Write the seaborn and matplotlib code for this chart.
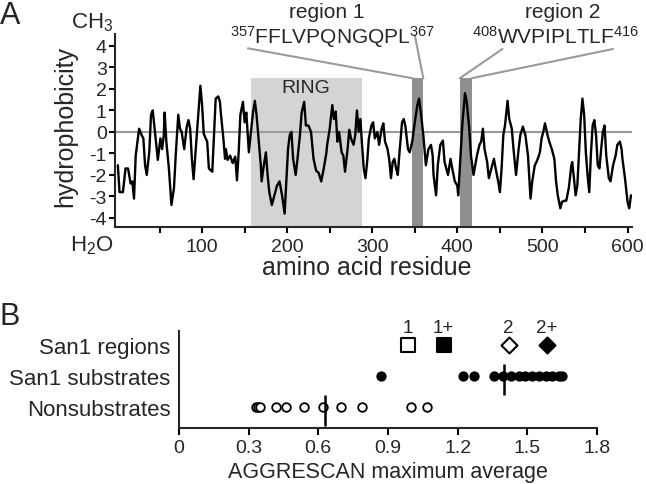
import numpy as np
import pandas as pd
import matplotlib
matplotlib.use("Agg")
import matplotlib.pyplot as plt
import seaborn as sns

# ---------------- Data ----------------
# Panel A: hydrophobicity profile
residue = [1, 3, 7, 10, 13, 16, 18, 20, 22, 26, 29, 31, 33, 35, 38, 40, 42, 45, 48, 51,
           53, 55, 56, 58, 61, 64, 67, 69, 72, 74, 76, 79, 82, 84, 86, 88, 90, 92, 95, 98,
           100, 102, 106, 108, 112, 114, 116, 119, 121, 122, 125, 127, 128, 130, 133, 136, 139, 141, 143, 145,
           148, 150, 152, 155, 157, 160, 162, 164, 166, 169, 170, 172, 175, 177, 179, 182, 185, 188, 191, 194,
           197, 199, 201, 203, 205, 207, 210, 212, 215, 217, 220, 222, 225, 228, 231, 234, 237, 240, 243, 246,
           247, 250, 253, 255, 257, 259, 261, 264, 266, 268, 271, 273, 275, 278, 280, 282, 284, 286, 288, 290,
           292, 294, 296, 299, 301, 303, 306, 308, 311, 313, 315, 318, 320, 322, 324, 326, 328, 330, 332, 335,
           337, 339, 342, 344, 347, 350, 353, 355, 357, 360, 363, 366, 369, 371, 372, 375, 377, 380, 383, 385,
           387, 389, 392, 394, 397, 400, 401, 404, 406, 409, 411, 414, 416, 419, 421, 423, 426, 428, 430, 432,
           435, 437, 440, 443, 445, 448, 450, 452, 454, 456, 459, 461, 464, 466, 469, 472, 474, 477, 480, 483,
           486, 488, 491, 493, 495, 497, 499, 501, 503, 506, 508, 511, 514, 516, 518, 521, 523, 526, 528, 531,
           534, 535, 537, 539, 541, 543, 545, 547, 549, 551, 553, 555, 557, 559, 561, 563, 565, 567, 569, 571,
           573, 575, 578, 580, 583, 586, 588, 591, 593, 594, 597, 600, 602, 604]
hydro = [-1.55, -2.8, -2.8, -1.7, -1.7, -2.4, -2.3, -3.1, -1.1, 0.15, -0.15, -0.3, -1.55, -2.0, -0.9, 0.8, 1.0, -0.15, -1.3, -0.3,
         -0.8, -0.15, 0.9, -0.45, -1.7, -3.4, -2.6, -1.1, 0.8, 0.15, 0.0, -0.8, 0.25, 0.55, 0.15, -1.25, -2.2, -1.1, 0.6, 2.15,
         1.25, -0.1, -0.45, -1.7, -1.85, -0.15, 1.55, 1.65, 1.4, 0.9, -0.3, -1.25, -0.8, -1.3, -1.1, -1.45, -1.15, -2.25, -0.95, 0.8,
         1.4, 0.45, 0.9, -0.95, -0.15, 0.95, 1.45, 0.8, -0.15, -1.55, -2.3, -1.7, -0.95, -2.0, -2.8, -3.4, -2.95, -2.5, -2.3, -2.95,
         -3.8, -2.3, -0.8, -0.15, 0.0, -1.25, -2.0, -1.3, -0.15, 0.9, 1.4, 0.3, 0.3, 0.0, -1.25, -1.8, -1.9, -2.3, -1.7, -1.0,
         -0.6, 0.15, 1.25, 0.6, 0.95, -0.45, 0.0, -0.95, -1.1, -1.85, -0.8, 0.1, -0.3, -0.6, -0.15, 1.0, 0.0, 0.6, -0.6, -1.7,
         -2.15, -1.4, -0.3, 0.3, 0.45, -0.3, 0.0, -0.6, 0.15, 0.4, -0.45, -0.8, -1.3, -2.15, -1.4, -1.25, -1.7, -2.0, -0.95, 0.45,
         0.6, 0.25, -0.8, -0.95, -0.45, 0.45, 1.25, 1.55, 0.95, -0.15, -1.55, -0.8, -0.6, -1.1, -2.0, -2.95, -1.55, -0.6, -0.4, -1.4,
         -1.7, -2.0, -1.25, -1.7, -2.3, -2.5, -2.95, -0.95, 0.45, 1.8, 1.4, 0.15, -1.1, -2.0, -1.55, -1.1, -0.6, -0.45, 0.15, -0.8,
         -1.4, -2.15, -1.7, -1.25, -1.7, -2.3, -2.8, -1.7, -0.15, 0.3, 1.45, 0.6, 0.15, -0.8, -2.0, -0.8, -0.15, 0.25, -0.15, -1.1,
         -3.1, -2.3, -1.55, -1.4, -1.2, -0.95, -0.3, 0.0, 0.4, -0.15, -0.45, -0.8, -1.25, -2.3, -2.95, -3.55, -3.25, -3.2, -3.2, -2.6,
         -1.55, -1.4, -2.15, -2.95, -2.5, -0.95, 0.6, 1.55, 0.8, -0.95, -2.0, -2.8, -1.0, 0.3, 0.55, -0.15, -1.55, -1.7, -0.8, 0.0,
         0.3, -1.1, -2.15, -2.3, -1.55, -1.1, -0.6, -0.45, -0.8, -1.25, -2.15, -3.25, -3.55, -2.95]

ring_span = [158, 287.5]
region1_span = [347, 360]
region2_span = [403, 417]
band_top = 2.5

# Panel B: AGGRESCAN maximum average
groups = ["San1 regions", "San1 substrates", "Nonsubstrates"]
region_labels = ["1", "1+", "2", "2+"]
region_scores = [0.985, 1.14, 1.42, 1.585]
region_markers = ["s", "s", "D", "D"]
region_filled = [False, True, False, True]
substrates = [0.87, 1.225, 1.27, 1.355, 1.395, 1.43, 1.465, 1.49, 1.52, 1.55, 1.58, 1.605, 1.635, 1.65]
nonsubstrates = [0.33, 0.34, 0.35, 0.42, 0.46, 0.54, 0.62, 0.70, 0.79, 1.00, 1.07]
substrates_mid = 1.40
nonsubstrates_mid = 0.63

# ---------------- Style ----------------
sns.set_theme(style="ticks")
plt.rcParams['font.family'] = ['Liberation Sans', 'DejaVu Sans']
plt.rcParams['mathtext.default'] = 'regular'
plt.rcParams['axes.unicode_minus'] = False
plt.rcParams['axes.linewidth'] = 1.5
plt.rcParams['xtick.major.width'] = 1.5
plt.rcParams['ytick.major.width'] = 1.5
plt.rcParams['xtick.minor.width'] = 1.5

fig = plt.figure(figsize=(6.46, 4.85), dpi=100)
axA = fig.add_axes([0.178, 0.530, 0.800, 0.398])
axB = fig.add_axes([0.277, 0.1155, 0.647, 0.200])

# -------- Panel A --------
ylo, yhi = -4.42, 4.56
axA.fill_between(ring_span, ylo, band_top, color="#d4d4d4", lw=0, zorder=0)
axA.fill_between(region1_span, ylo, band_top, color="#8f8f8f", lw=0, zorder=0)
axA.fill_between(region2_span, ylo, band_top, color="#8f8f8f", lw=0, zorder=0)
axA.axhline(0, color="#9a9a9a", lw=1.5, zorder=1)
sns.lineplot(x=residue, y=hydro, color="black", lw=1.7, estimator=None, ax=axA, zorder=2)

axA.set_xlim(-2.35, 605)
axA.set_ylim(ylo, yhi)
axA.set_xticks([100, 200, 300, 400, 500, 600])
axA.set_xticks([50, 150, 250, 350, 450, 550], minor=True)
axA.set_yticks(range(-4, 5))
axA.tick_params(axis="both", which="both", length=4, labelsize=14, pad=2, color="black")
axA.tick_params(axis="x", which="major", pad=4)
sns.despine(ax=axA)

axA.text(np.mean(ring_span) - 0.3, 2.05, "RING", ha="center", va="center", fontsize=14)

# callout lines
callout = dict(color="#9a9a9a", lw=1.5, clip_on=False)
axA.plot([region1_span[0], 154], [band_top, 3.89], **callout)
axA.plot([region1_span[1], 350], [band_top, 4.5], **callout)
axA.plot([region2_span[0], 453], [band_top, 3.86], **callout)
axA.plot([region2_span[1], 583], [band_top, 3.86], **callout)

axA.text(247, 5.36, "region 1", ha="center", va="baseline", fontsize=15, clip_on=False)
axA.text(253, 4.13, "$^{357}$FFLVPQNGQPL$^{367}$", ha="center", va="baseline", fontsize=15, clip_on=False)
axA.text(524, 5.36, "region 2", ha="center", va="baseline", fontsize=15, clip_on=False)
axA.text(515, 4.13, "$^{408}$WVPIPLTLF$^{416}$", ha="center", va="baseline", fontsize=15, clip_on=False)

fig.text(0.0, 0.9505, "A", fontsize=22, ha="left", va="baseline")
fig.text(0.143, 0.941, "CH$_3$", fontsize=16, ha="center", va="baseline")
fig.text(0.142, 0.4825, "H$_2$O", fontsize=16, ha="center", va="baseline")
fig.text(0.101, 0.74, "hydrophobicity", fontsize=18, rotation=90, ha="center", va="center")
fig.text(0.567, 0.447, "amino acid residue", fontsize=18, ha="center", va="center")

# -------- Panel B --------
sns.stripplot(x=substrates, y=[groups[1]] * len(substrates), order=groups, jitter=False,
              color="black", size=7.4, ax=axB, zorder=3)
sns.stripplot(x=nonsubstrates, y=[groups[2]] * len(nonsubstrates), order=groups, jitter=False,
              color="white", edgecolor="black", linewidth=1.3, size=6.2, ax=axB, zorder=3)

row = groups.index("San1 regions")
for lab, sc, mk, filled in zip(region_labels, region_scores, region_markers, region_filled):
    sns.scatterplot(x=[sc], y=[row], marker=mk, s=90 if mk == "s" else 66,
                    color="black" if filled else "white", edgecolor="black", linewidth=1.5,
                    ax=axB, zorder=3, legend=False)
    axB.text(sc, row - 0.44, lab, ha="center", va="baseline", fontsize=13.5, clip_on=False)

axB.vlines(substrates_mid, 0.59, 1.62, color="black", lw=1.8, zorder=4)
axB.vlines(nonsubstrates_mid, 1.62, 2.62, color="black", lw=1.8, zorder=4)

axB.set_xlim(0, 1.8)
axB.set_ylim(2.68, -0.47)
axB.set_xticks([0, 0.3, 0.6, 0.9, 1.2, 1.5, 1.8])
axB.set_xticklabels(["0", "0.3", "0.6", "0.9", "1.2", "1.5", "1.8"])
axB.tick_params(axis="x", length=5, labelsize=14, pad=3, color="black")
axB.tick_params(axis="y", length=0, labelsize=16, pad=6)
axB.set_xlabel("")
axB.set_ylabel("")
sns.despine(ax=axB)

fig.text(0.0, 0.33, "B", fontsize=22, ha="left", va="baseline")
fig.text(0.601, 0.025, "AGGRESCAN maximum average", fontsize=15.5, ha="center", va="center")

plt.savefig("out.png", dpi=100)
